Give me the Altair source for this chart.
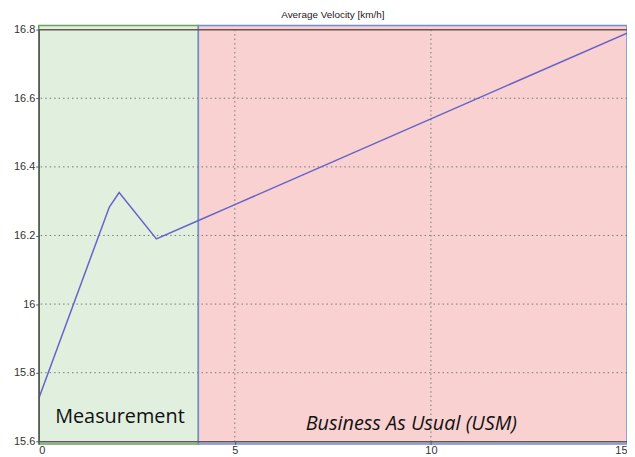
import altair as alt
import pandas as pd

# Data
x_vals = [0, 1.8, 2.05, 3, 4, 5, 10, 15]
y_vals = [15.725, 16.283, 16.325, 16.19, 16.24, 16.29, 16.54, 16.79]

region_names = ["Measurement", "Business As Usual (USM)"]
region_start = [0, 4.07]
region_end = [4.07, 15]
region_fill = ["#e1efdf", "#f9d1d1"]
region_stroke = ["#6aa35e", "#6f8fcf"]
region_ylo = [15.592, 15.592]
region_yhi = [16.812, 16.812]

label_x = [2.07, 9.5]
label_y = [15.67, 15.65]
label_style = ["normal", "italic"]

x_ticks = [0, 5, 10, 15]
y_ticks = [15.6, 15.8, 16.0, 16.2, 16.4, 16.6, 16.8]
x_grid = [5, 10]
y_grid = [15.8, 16.0, 16.2, 16.4, 16.6]
y_top = [16.8]

line_df = pd.DataFrame({"x": x_vals, "y": y_vals})
reg_df = pd.DataFrame({"name": region_names, "x0": region_start, "x1": region_end,
                       "y0": region_ylo, "y1": region_yhi,
                       "fill": region_fill, "stroke": region_stroke})
lab_df = pd.DataFrame({"name": region_names, "x": label_x, "y": label_y, "style": label_style})

xs = alt.Scale(domain=[0, 15], nice=False, zero=False)
ys = alt.Scale(domain=[15.6, 16.8], nice=False, zero=False)

x_axis = alt.Axis(values=x_ticks, title=None, grid=False, zindex=1,
                  labelFontSize=11, labelColor="#333333", domainColor="#5a5a5a",
                  domainWidth=1.5, tickColor="#555555", tickSize=3, labelPadding=0,
                  format="d", labelFont="Liberation Sans")
y_axis = alt.Axis(values=y_ticks, title=None, grid=False, zindex=1,
                  labelFontSize=11, labelColor="#333333", domainColor="#5a5a5a",
                  domainWidth=1.5, tickColor="#555555", tickSize=3, labelPadding=1,
                  labelFont="Liberation Sans",
                  labelExpr="format(datum.value, '.1f') == '16.0' ? '16' : format(datum.value, '.1f')")

regions = alt.Chart(reg_df).mark_rect(strokeWidth=1.5, clip=False).encode(
    x=alt.X("x0:Q", scale=xs, axis=x_axis),
    x2="x1",
    y=alt.Y("y0:Q", scale=ys, axis=y_axis),
    y2="y1",
    fill=alt.Fill("fill:N", scale=None),
    stroke=alt.Stroke("stroke:N", scale=None),
)

grid_x = alt.Chart(pd.DataFrame({"v": x_grid})).mark_rule(
    color="#777777", strokeDash=[1.5, 3], strokeWidth=1).encode(
    x=alt.X("v:Q", scale=xs))
grid_y = alt.Chart(pd.DataFrame({"v": y_grid})).mark_rule(
    color="#777777", strokeDash=[1.5, 3], strokeWidth=1).encode(
    y=alt.Y("v:Q", scale=ys))
top_rule = alt.Chart(pd.DataFrame({"v": y_top})).mark_rule(
    color="#6b5555", strokeWidth=1.5).encode(
    y=alt.Y("v:Q", scale=ys))

line = alt.Chart(line_df).mark_line(color="#6464c8", strokeWidth=1.5).encode(
    x=alt.X("x:Q", scale=xs), y=alt.Y("y:Q", scale=ys))

lab_normal = alt.Chart(lab_df[lab_df["style"] == "normal"]).mark_text(
    fontSize=20, font="Open Sans", color="#111111").encode(
    x=alt.X("x:Q", scale=xs), y=alt.Y("y:Q", scale=ys), text="name:N")
lab_italic = alt.Chart(lab_df[lab_df["style"] == "italic"]).mark_text(
    fontSize=20, font="Open Sans", fontStyle="italic", color="#111111").encode(
    x=alt.X("x:Q", scale=xs), y=alt.Y("y:Q", scale=ys), text="name:N")

chart = alt.layer(regions, grid_x, grid_y, top_rule, line, lab_normal, lab_italic).properties(
    width=593, height=415,
    title=alt.TitleParams("Average Velocity [km/h]", fontSize=10, fontWeight="normal",
                          color="#222222", offset=4, font="Liberation Sans"),
    autosize=alt.AutoSizeParams(type="none"),
    padding={"left": 31, "top": 20, "right": 0, "bottom": 14},
).configure_view(stroke=None)

chart.save("out.html", embed_options={"renderer": "svg", "actions": False})
